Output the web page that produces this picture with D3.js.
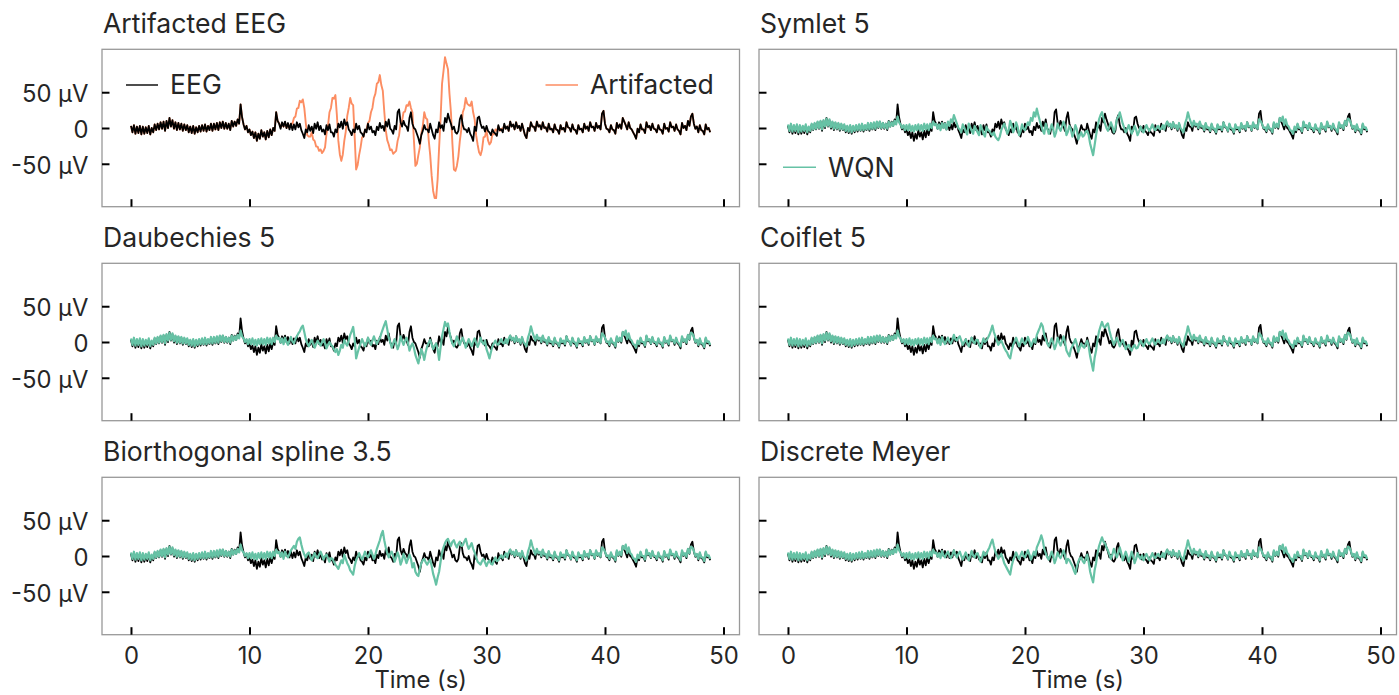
<!DOCTYPE html>
<html><head><meta charset="utf-8">
<script src="https://cdn.jsdelivr.net/npm/d3@7"></script>
<style>
body{margin:0;background:#fff;}
text{font-family:Inter,"Noto Sans",sans-serif;fill:#262626;}
</style>
</head><body>
<svg id="chart" width="1399" height="695"></svg>
<script>
// ---------------- data ----------------
const sampleInterval = 0.125; // seconds between samples
const panelTitles = ["Artifacted EEG","Symlet 5","Daubechies 5","Coiflet 5","Biorthogonal spline 3.5","Discrete Meyer"];
const xTicks = [0,10,20,30,40,50];
const yTicks = [-50,0,50];
const yTickLabels = ["-50 μV","0","50 μV"];
const legendLabels = ["EEG","Artifacted","WQN"];

// clean EEG, t = 0 … 48.875 s (one row per second)
const eeg = [
 3,-6,4,-8,2,-7,3,-9,
 2,-8,1,-7,3,-9,0,-6,
 5,-3,6,-2,8,-1,9,-4,
 10,0,14,2,11,-1,8,-3,
 7,-2,6,-4,5,-3,4,-6,
 2,-7,3,-8,1,-6,3,-5,
 4,-4,5,-5,3,-3,6,-4,
 6,-2,7,-3,8,0,9,-1,
 7,-1,6,-3,10,2,9,3,
 12,6,33,15,5,-2,3,-6,
 -2,-10,-5,-14,-6,-18,-8,-15,
 -3,-12,-6,-16,-4,-13,-2,-10,
 0,-4,22,10,6,-1,8,2,
 9,0,7,-2,6,-3,5,-2,
 8,1,6,-3,-8,-14,-2,-6,
 4,-4,2,-7,6,-1,8,-3,
 3,-5,-2,-9,4,-3,5,-6,
 -6,-12,-2,-6,6,1,9,-1,
 12,4,8,-2,-5,-10,-2,-6,
 6,-2,3,-6,-8,-12,-2,-6,
 6,-2,2,-6,-4,-10,2,-3,
 7,0,3,-4,9,2,12,-1,
 -3,-8,3,-2,22,26,8,2,
 10,4,2,-4,14,22,6,0,
 -2,-8,-14,-22,-10,-4,4,-2,
 -2,-6,6,-2,-10,-15,-2,-6,
 8,0,4,-4,14,8,20,12,
 6,-2,2,-6,-8,-4,12,18,
 4,-2,-2,-6,0,-8,-12,-18,
 2,-4,14,16,6,0,2,-5,
 3,-4,-6,-10,-2,-6,-8,-11,
 4,-3,-2,-6,6,-1,2,-4,
 9,2,5,-2,8,0,3,-4,
 6,-2,-10,-14,0,-4,8,2,
 2,-4,9,2,4,-2,8,0,
 1,-5,6,-2,-1,-6,5,-2,
 -3,-8,4,-2,0,-5,8,1,
 0,-5,5,-2,-3,-8,4,-2,
 -1,-6,6,-1,2,-4,8,1,
 2,-4,7,0,3,-2,20,24,
 6,-1,-2,-6,4,-2,-3,-8,
 7,0,5,-1,14,9,4,-2,
 8,0,-2,-6,-10,-15,-1,-6,
 5,-2,-2,-7,8,1,3,-3,
 6,-1,-2,-6,4,-2,-3,-8,
 6,-1,0,-5,8,1,2,-4,
 5,-2,-4,-9,7,0,3,-3,
 10,3,16,20,6,-1,2,-6,
 4,-3,-4,-9,5,-2,0,-6
];

// artifacted signal inside the artifact window (t = 12.5 … 31.5 s); elsewhere it coincides with the EEG
const artifactStart = 12.5;
const artifacted = [
 7,1,4,2,
 8,0,2,1,6,6,14,16,
 27,28,38,36,40,28,7,-10,
 -12,-12,-6,-16,-18,-26,-26,-32,
 -30,-35,-32,-27,-8,3,22,28,
 42,41,46,18,-18,-37,-46,-37,
 -18,-5,17,28,42,34,32,-12,
 -58,-52,-38,-27,-13,-12,-3,-2,
 7,10,22,28,42,48,62,64,
 74,60,52,23,-3,-17,-23,-31,
 -30,-36,-34,-32,-18,-10,7,10,
 22,23,32,31,37,28,22,-17,
 -53,-50,-38,-27,-8,3,22,14,
 12,-17,-38,-67,-88,-98,-98,-72,
 -28,13,62,80,99,90,82,48,
 22,-22,-58,-60,-53,-40,-18,-2,
 22,28,42,34,32,31,37,22,
 12,-10,-23,-34,-38,-30,-13,-12,
 -3,-17,-23,-20,-8,-9,-2,-4,
 2,-4,-1,-2,4
];

// WQN output outside the artifact window (same for every wavelet)
const wqnPre = [ // t = 0 … 12.375 s
 5,-4,6,-5,4,-4,5,-6,
 4,-5,3,-4,5,-6,2,-4,
 6,-2,7,-1,9,0,10,-2,
 11,2,13,3,12,1,9,-1,
 8,-1,7,-2,6,-2,5,-4,
 3,-5,4,-6,3,-4,4,-3,
 5,-3,6,-3,4,-2,7,-2,
 7,-1,8,-1,9,1,9,0,
 7,0,6,-1,9,2,8,3,
 10,5,16,8,5,0,4,-3,
 4,-3,5,-4,3,-5,4,-3,
 5,-3,4,-4,6,-2,5,-3,
 6,0,9,4
];
const wqnPostStart = 31.625;
const wqnPost = [ // t = 31.625 … 48.875 s
 4,-2,5,
 9,3,6,0,8,1,4,-2,
 7,0,-3,-6,6,12,22,14,
 8,2,10,4,6,0,9,2,
 3,-3,7,0,1,-4,6,-1,
 -1,-6,5,0,2,-3,8,2,
 1,-4,6,0,-1,-6,5,0,
 1,-4,7,0,3,-2,8,2,
 3,-3,8,1,4,-1,12,10,
 6,0,1,-4,5,-1,-1,-6,
 8,1,6,1,14,10,16,4,
 12,4,2,-3,-4,-8,2,-3,
 6,0,0,-5,9,2,4,-2,
 7,0,0,-4,5,-1,-1,-6,
 7,0,2,-3,9,2,3,-2,
 6,0,-2,-6,8,1,4,-1,
 10,4,13,12,7,0,3,-4,
 5,-2,-2,-7,6,0,1,-4
];

// WQN output inside the artifact window (t = 12.5 … 31.5 s), one per wavelet
const wqnSym5 = [
 6,-1,5,-3,
 7,0,6,-2,9,3,12,8,
 18,12,6,0,-2,-6,5,1,
 -5,-9,6,1,-4,-8,3,-2,
 -6,-10,4,-1,-8,-12,2,-3,
 -4,-8,-10,-6,-12,-15,-17,-12,
 -3,2,6,0,-8,-3,10,4,
 -6,-1,8,2,-10,-5,5,-1,
 -3,3,8,4,14,10,22,16,
 27,18,10,3,-4,-8,6,0,
 -8,-3,5,-1,-12,-6,6,0,
 -4,2,9,3,-10,-5,3,-2,
 -12,-6,4,-2,-16,-10,-6,-12,
 -10,-5,-4,-10,-22,-30,-38,-24,
 -10,2,12,18,22,14,6,0,
 -4,2,8,2,-6,0,12,16,
 22,14,6,0,-6,-2,4,-2,
 -8,-3,3,-2,-10,-5,2,-3,
 -6,-1,4,-1,-4,0,5,-1,
 -3,1,3,-2,-1
];
const wqnDb5 = [
 6,-1,5,-3,
 6,0,-4,2,7,1,-2,4,
 8,12,15,20,23,14,4,-2,
 -6,-1,3,-3,-8,-3,2,-2,
 -5,0,4,-2,-9,-4,0,-4,
 -6,-10,-14,-10,-18,-12,-4,-8,
 3,-2,-5,2,10,15,21,5,
 -23,-15,-8,-2,4,-1,-6,-1,
 6,0,-4,2,8,2,-3,2,
 5,12,18,24,29,18,6,0,
 -8,-2,4,-2,-10,-4,8,2,
 -4,2,6,-1,-12,-6,-2,-8,
 -18,-24,-30,-20,-10,-16,-25,-14,
 -6,-1,3,-3,-10,-5,-2,-10,
 -25,-8,8,18,28,22,26,14,
 4,-2,-6,0,8,2,-4,2,
 6,0,-8,-2,4,-1,-6,0,
 5,-1,-7,-2,6,0,-3,2,
 -10,-16,-23,-14,-6,-2,2,-3,
 -4,1,4,-1,-2
];
const wqnCoif5 = [
 5,-2,4,-4,
 7,1,-3,2,6,0,-2,3,
 10,4,2,6,8,2,-4,0,
 4,-1,-6,0,6,1,-2,3,
 3,-3,-8,-2,5,0,2,6,
 10,16,23,14,8,2,-4,0,
 2,-3,-8,-12,-15,-20,-23,-12,
 -4,1,6,0,-6,-1,5,0,
 -3,2,7,1,-6,-1,4,-1,
 10,15,20,26,22,10,4,-2,
 -6,-1,5,-1,-10,-4,6,0,
 -5,1,8,0,-12,-16,-20,-10,
 -6,-1,4,-3,-14,-8,-2,-6,
 -8,-3,2,-6,-20,-30,-40,-22,
 -12,4,15,22,28,22,20,24,
 26,16,8,2,-4,1,6,0,
 -6,-1,3,-3,-10,-6,-4,-9,
 -12,-7,-4,-9,-8,-3,2,-2,
 -6,-1,4,-1,-3,1,5,0,
 -4,1,3,-1,-2
];
const wqnBior35 = [
 6,-1,5,-4,
 6,1,-2,3,8,11,14,10,
 20,24,26,16,8,2,-2,3,
 5,0,-6,-1,4,-1,-3,2,
 6,1,-5,0,2,-3,-8,-3,
 -4,-8,-12,-15,-18,-12,-6,-10,
 2,-4,-10,-14,-20,-23,-26,-14,
 -6,-1,4,-1,-5,0,6,1,
 -2,3,8,2,-4,2,10,16,
 22,30,35,22,12,4,-2,3,
 6,0,-8,-2,5,-1,-12,-6,
 3,-3,-10,-4,2,-4,-16,-10,
 -22,-26,-28,-18,-10,-6,-4,-9,
 -12,-8,-5,-14,-25,-32,-40,-30,
 -22,-8,5,12,18,22,24,18,
 14,20,22,16,12,17,20,14,
 15,20,24,16,10,14,18,10,
 5,-2,-8,-10,-12,-7,-4,-9,
 -14,-9,-6,-11,-12,-6,-2,-7,
 -6,-2,1,-3,0
];
const wqnDmey = [
 5,-1,4,-3,
 7,1,-2,3,6,0,-3,2,
 8,2,-2,3,6,0,-5,0,
 5,0,-6,-1,7,1,-2,3,
 4,-2,-8,-2,6,1,3,8,
 12,18,23,14,6,1,-4,0,
 3,-3,-10,-14,-18,-22,-26,-14,
 -6,-1,5,0,-4,1,6,0,
 -2,3,8,2,-5,0,6,1,
 12,17,22,29,22,10,4,-2,
 -5,0,6,0,-10,-4,5,0,
 -3,2,8,1,-10,-4,-6,-10,
 -14,-20,-25,-15,-8,-3,-2,-7,
 -10,-4,2,-8,-22,-30,-37,-20,
 -10,4,14,20,26,20,18,12,
 8,2,-4,2,10,4,-2,4,
 12,4,-6,0,6,0,-8,-2,
 6,0,-10,-4,4,-1,-4,1,
 -6,-1,3,-2,-6,-1,4,-1,
 -3,1,3,-1,-1
];

// ---------------- assemble series ----------------
const toPts = (arr, t0) => arr.map((v,i)=>[t0 + i*sampleInterval, v]);
const eegPts = toPts(eeg, 0);
const artSeg = toPts(artifacted, artifactStart);
const artEnd = artSeg[artSeg.length-1][0];
const artPts = eegPts.filter(p=>p[0] < artifactStart - 1e-9)
  .concat(artSeg, eegPts.filter(p=>p[0] > artEnd + 1e-9));
const wqnSeries = [wqnSym5, wqnDb5, wqnCoif5, wqnBior35, wqnDmey].map(seg =>
  toPts(wqnPre,0).concat(toPts(seg, artifactStart), toPts(wqnPost, wqnPostStart)));

// ---------------- layout ----------------
const colors = {eeg:"#000000", art:"#fc8d62", wqn:"#66c2a5"};
const svg = d3.select("#chart");
const colLeft = [102, 759], panelW = 637.5;
const rowTop = [49.3, 263.3, 477.3], panelH = 157.4;
const fs = 23.8, fsTitle = 26.6;

const x = d3.scaleLinear().domain([-2.445, 51.35]).range([0, panelW]);
const y = d3.scaleLinear().domain([-110, 110]).range([panelH, 0]);
const line = d3.line().x(d=>x(d[0])).y(d=>y(d[1]));

for (let k=0;k<6;k++){
  const r = Math.floor(k/2), c = k%2;
  const g = svg.append("g").attr("transform",`translate(${colLeft[c]},${rowTop[r]})`);
  g.append("text").attr("x",1).attr("y",-16).attr("font-size",fsTitle).text(panelTitles[k]);

  if (k===0){
    g.append("path").datum(artPts).attr("d",line).attr("fill","none")
      .attr("stroke",colors.art).attr("stroke-width",1.9).attr("stroke-linejoin","round");
    g.append("path").datum(eegPts).attr("d",line).attr("fill","none")
      .attr("stroke",colors.eeg).attr("stroke-width",1.8).attr("stroke-linejoin","round");
  } else {
    g.append("path").datum(eegPts).attr("d",line).attr("fill","none")
      .attr("stroke",colors.eeg).attr("stroke-width",1.8).attr("stroke-linejoin","round");
    g.append("path").datum(wqnSeries[k-1]).attr("d",line).attr("fill","none")
      .attr("stroke",colors.wqn).attr("stroke-width",2.2).attr("stroke-linejoin","round");
  }

  // frame
  g.append("rect").attr("width",panelW).attr("height",panelH)
    .attr("fill","none").attr("stroke","#999").attr("stroke-width",1.3);

  // x ticks (inward)
  const xa = d3.axisBottom(x).tickValues(xTicks).tickSizeInner(-7.5).tickSizeOuter(0)
    .tickFormat(r===2 ? d3.format("d") : "");
  const gx = g.append("g").attr("transform",`translate(0,${panelH})`).call(xa);
  gx.select(".domain").remove();
  gx.selectAll(".tick line").attr("stroke","#000").attr("stroke-width",2);
  gx.selectAll(".tick text").attr("font-size",fs).attr("font-family","Inter").attr("fill","#262626")
    .attr("y",12).attr("dy","0.71em");

  // y ticks (inward)
  const ya = d3.axisLeft(y).tickValues(yTicks).tickSizeInner(-7.5).tickSizeOuter(0)
    .tickFormat(c===0 ? (d,i)=>yTickLabels[i] : "");
  const gy = g.append("g").call(ya);
  gy.select(".domain").remove();
  gy.selectAll(".tick line").attr("stroke","#000").attr("stroke-width",2);
  gy.selectAll(".tick text").attr("font-size",fs).attr("font-family","Inter").attr("fill","#262626")
    .attr("x",-13.5).attr("dy","0.4em");

  if (r===2){
    g.append("text").attr("x",x(24.45)).attr("y",panelH+53).attr("text-anchor","middle")
      .attr("font-size",fs).text("Time (s)");
  }

  // legends
  if (k===0){
    g.append("line").attr("x1",24).attr("x2",56).attr("y1",35.7).attr("y2",35.7)
      .attr("stroke",colors.eeg).attr("stroke-width",1.4);
    g.append("text").attr("x",68).attr("y",45).attr("font-size",fsTitle).text(legendLabels[0]);
    g.append("line").attr("x1",443.5).attr("x2",476).attr("y1",35.7).attr("y2",35.7)
      .attr("stroke",colors.art).attr("stroke-width",1.4);
    g.append("text").attr("x",488).attr("y",45).attr("font-size",fsTitle).text(legendLabels[1]);
  }
  if (k===1){
    g.append("line").attr("x1",24).attr("x2",57).attr("y1",118).attr("y2",118)
      .attr("stroke",colors.wqn).attr("stroke-width",1.4);
    g.append("text").attr("x",69).attr("y",127.5).attr("font-size",fsTitle).text(legendLabels[2]);
  }
}
</script>
</body></html>
